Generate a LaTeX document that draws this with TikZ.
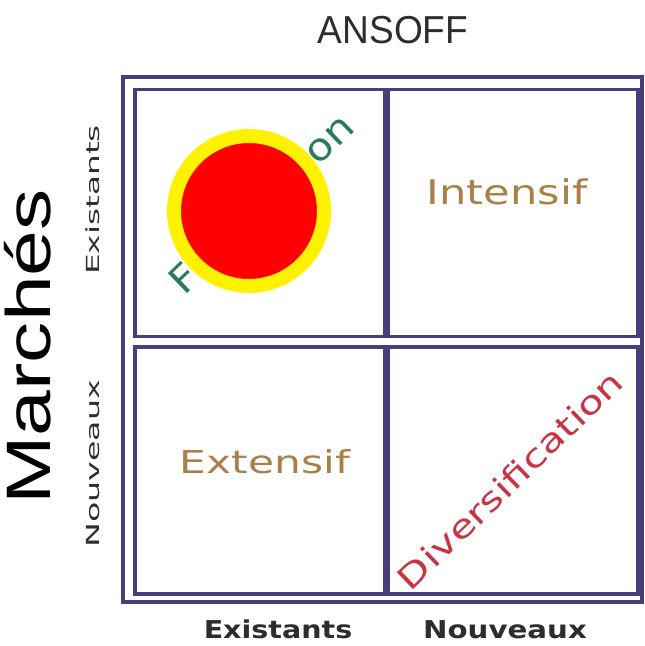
\documentclass[tikz,border=0pt]{standalone}
\usepackage{fontspec}
\usepackage{graphicx}
\usepackage{xcolor}
\usepackage{tikz}
\usetikzlibrary{shapes.geometric, positioning}
\newfontfamily\cellfont{DejaVu Sans}
\newfontfamily\titlefont{Liberation Sans}
\definecolor{framecol}{RGB}{72,62,122}
\definecolor{axiscol}{RGB}{45,45,45}
\definecolor{warmcol}{RGB}{168,128,72}
\definecolor{divcol}{RGB}{200,52,66}
\definecolor{fidcol}{RGB}{42,122,96}

\begin{document}
\begin{tikzpicture}[x=0.5pt, y=-0.5pt,
        box/.style={draw=framecol, line width=1.6pt, inner sep=0pt},
        cell/.style={box, minimum width=125pt, minimum height=123.5pt},
        axis/.style={text=axiscol, inner sep=0pt}]
            \useasboundingbox (0, 0) rectangle (644, 646);

            \node[box, minimum width=259.5pt, minimum height=262.5pt] at (382.5, 339.5) (frame) {};
            \node[cell] at (260, 213)   (c11) {};
            \node[cell] at (513, 213)   (c12) {};
            \node[cell] at (260, 470.5) (c21) {};
            \node[cell] at (513, 470.5) (c22) {};

            \node[axis, anchor=base] at (393, 44) (title) {\scalebox{0.95}[1]{\titlefont\fontsize{19.5}{20}\selectfont ANSOFF}};
            \node[inner sep=0pt, anchor=base, rotate=90] at (50, 347) (markets) {\scalebox{1.31}[1]{\titlefont\fontsize{31.4}{32}\selectfont Marchés}};
            \node[axis, anchor=base, rotate=90] at (99, 200) (mexist) {\scalebox{1.82}[1]{\cellfont\fontsize{9}{10}\selectfont Existants}};
            \node[axis, anchor=base, rotate=90] at (99, 464) (mnew) {\scalebox{1.85}[1]{\cellfont\fontsize{9}{10}\selectfont Nouveaux}};
            \node[axis, anchor=base] at (278, 638) (pexist) {\scalebox{1.16}[1]{\cellfont\bfseries\fontsize{12.3}{13}\selectfont Existants}};
            \node[axis, anchor=base] at (505, 638) (pnew) {\scalebox{1.19}[1]{\cellfont\bfseries\fontsize{12.3}{13}\selectfont Nouveaux}};

            \node[text=fidcol, inner sep=0pt, rotate=44] at (260, 202) (fid) {\scalebox{1.12}[1]{\cellfont\fontsize{19}{20}\selectfont Fidélisation}};
            \node[text=warmcol, inner sep=0pt, anchor=base] at (507, 205) (intens) {\scalebox{1.27}[1]{\cellfont\fontsize{17}{18}\selectfont Intensif}};
            \node[text=warmcol, inner sep=0pt, anchor=base] at (265, 473) (extens) {\scalebox{1.34}[1]{\cellfont\fontsize{15.8}{17}\selectfont Extensif}};
            \node[text=divcol, inner sep=0pt, rotate=44] at (510, 480) (divers) {\scalebox{1.3}[1]{\cellfont\fontsize{16}{17}\selectfont Diversification}};

            \node[circle, fill=red, draw=yellow, line width=7pt, minimum size=75pt, inner sep=0pt] at (249, 211) (dot) {};
        \end{tikzpicture}
\end{document}
